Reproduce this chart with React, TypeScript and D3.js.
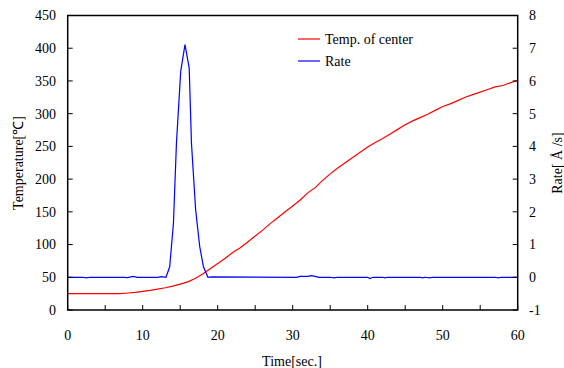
import React from "react";
import * as d3 from "d3";

const tempTimes = [0,1,2,3,4,5,6,7,8,9,10,11,12,13,14,15,16,17,18,19,20,21,22,23,24,25,26,27,28,29,30,31,32,33,34,35,36,37,38,39,40,41,42,43,44,45,46,47,48,49,50,51,52,53,54,55,56,57,58,59,60];
const tempValues = [25,25,25,25,25,25,25,25,26,27,28.5,30,32,34,36.5,39.5,43,48,55,63,71,79,88,95,104,113,122,132,141,150,159,168,179,187,198,208,217,225,233,241,249,256,262,269,276,283,289,294,299,305,311,315,320,325,329,333,337,341,343,347,351];

const rateTimes = [0,2,2.5,3,7.5,8,8.7,9.3,12,12.5,13.1,13.6,14.1,14.5,15.07,15.64,16.2,16.5,17.06,17.6,18.1,18.7,19.2,30.5,31,32,32.5,33,33.5,35,35.5,36,40,40.3,40.7,42,42.3,42.6,47,47.3,47.6,48.3,48.6,57,57.4,57.8,60];
const rateValues = [0,0,-0.02,0,0,-0.01,0.03,0,0,0.02,0,0.32,1.66,4.1,6.3,7.11,6.39,4.1,2.06,0.94,0.32,0,0.01,0,0.03,0.03,0.05,0.03,0,0,-0.02,0,0,-0.04,0,0,-0.02,0,0,-0.02,0,-0.02,0,0,-0.02,0,0];

const xTicks = [0,10,20,30,40,50,60];
const xMinorTicks = [0,5,10,15,20,25,30,35,40,45,50,55,60];
const tempTicks = [0,50,100,150,200,250,300,350,400,450];
const rateTicks = [-1,0,1,2,3,4,5,6,7,8];

const seriesNames = ["Temp. of center", "Rate"];
const seriesColors = ["#ff0000", "#0000ff"];

export default function App() {
  const W = 564, H = 368;
  const L = 67.7, R = 517.7, T = 15.5, B = 310;
  const x = d3.scaleLinear().domain([0, 60]).range([L, R]);
  const yT = d3.scaleLinear().domain([0, 450]).range([B, T]);
  const yR = d3.scaleLinear().domain([-1, 8]).range([B, T]);
  const tempLine = d3.line<number>().x((_, i) => x(tempTimes[i])).y((d) => yT(d));
  const rateLine = d3.line<number>().x((_, i) => x(rateTimes[i])).y((d) => yR(d));
  const font = "'Liberation Serif', 'Times New Roman', serif";
  const fs = 14;
  return (
    <svg width={W} height={H} style={{ position: "absolute", left: 0, top: 0, background: "#fff" }} fontFamily={font} fontSize={fs}>
      <rect x={0} y={0} width={W} height={H} fill="#fff" />
      <path d={tempLine(tempValues) || ""} fill="none" stroke={seriesColors[0]} strokeWidth={1.2} />
      <path d={rateLine(rateValues) || ""} fill="none" stroke={seriesColors[1]} strokeWidth={1.2} />
      <rect x={L} y={T} width={R - L} height={B - T} fill="none" stroke="#000" strokeWidth={1.5} />
      {xMinorTicks.map((t) => (
        <line key={"xt" + t} x1={x(t)} x2={x(t)} y1={B} y2={B - 5} stroke="#000" strokeWidth={1} />
      ))}
      {xTicks.map((t) => (
        <text key={"xl" + t} x={x(t)} y={340} textAnchor="middle" fill="#000">{t}</text>
      ))}
      {tempTicks.map((t) => (
        <g key={"yt" + t}>
          <line x1={L} x2={L + 5} y1={yT(t)} y2={yT(t)} stroke="#000" strokeWidth={1} />
          <text x={56} y={yT(t)} dy="0.35em" textAnchor="end" fill="#000">{t}</text>
        </g>
      ))}
      {rateTicks.map((t) => (
        <g key={"rt" + t}>
          <line x1={R} x2={R - 5} y1={yR(t)} y2={yR(t)} stroke="#000" strokeWidth={1} />
          <text x={529} y={yR(t)} dy="0.35em" textAnchor="start" fill="#000">{t}</text>
        </g>
      ))}
      <text x={292} y={366} textAnchor="middle" fill="#000">Time[sec.]</text>
      <text transform="translate(23,163) rotate(-90)" textAnchor="middle" fill="#000">Temperature[℃]</text>
      <text transform="translate(562,163) rotate(-90)" textAnchor="middle" fill="#000">Rate[ Å /s]</text>
      {seriesNames.map((n, i) => (
        <g key={n}>
          <line x1={298} x2={320} y1={39 + i * 22} y2={39 + i * 22} stroke={seriesColors[i]} strokeWidth={1.2} />
          <text x={325} y={39 + i * 22} dy="0.35em" fill="#000">{n}</text>
        </g>
      ))}
    </svg>
  );
}
